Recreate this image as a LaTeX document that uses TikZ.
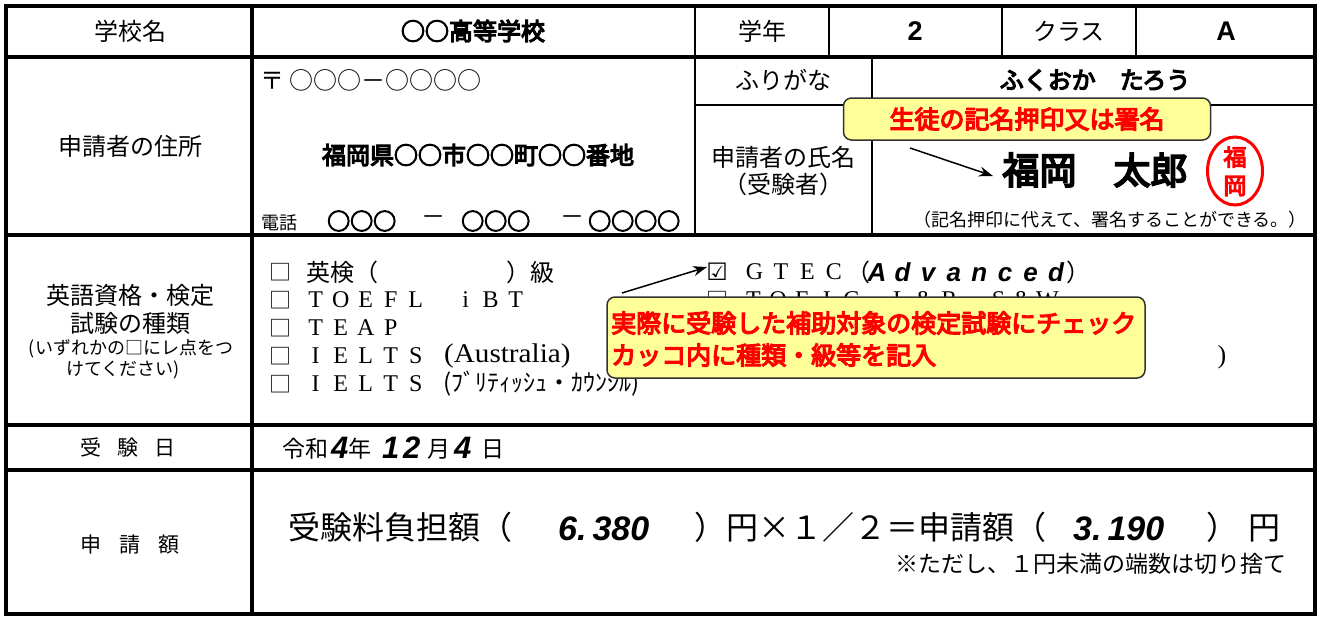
\documentclass[tikz,border=0pt]{standalone}
\usepackage{fontspec}
\setmainfont{Liberation Serif}
\newfontfamily\jp[AutoFakeBold=2]{Noto Sans CJK JP}
\newfontfamily\jph[AutoFakeBold=5, BoldFeatures={FakeBold=4}]{Noto Sans CJK JP}
\newfontfamily\dv{DejaVu Sans}
\newfontfamily\ls{Liberation Sans}
\usetikzlibrary{arrows.meta,shapes.geometric}
\definecolor{cyel}{HTML}{FFFF99}
\definecolor{cred}{HTML}{FF0000}
\newcommand\fs[1]{\fontsize{#1}{#1}\selectfont}
\makeatletter
\def\fw@loop#1{\ifx#1\relax\else\makebox[\fw@w]{#1}\expandafter\fw@loop\fi}
\newcommand\fw[2]{\def\fw@w{#1pt}\fw@loop#2\relax}
\makeatother
\tikzset{
  jpn/.style={font=\jp\fs{24}, inner sep=0pt},
  jpb/.style={font=\jph\bfseries\fs{24}, inner sep=0pt},
  jps/.style={font=\jp\fs{18}, inner sep=0pt},
  fwl/.style={font=\fs{24}, inner sep=0pt, anchor=west},
  boxch/.style={font=\jp\fs{22}, inner sep=0pt},
  digit/.style={font=\ls\bfseries\itshape\fs{31}, inner sep=0pt, anchor=base west},
  kanjis/.style={font=\jp\fs{23}, inner sep=0pt, anchor=base west},
  mainl/.style={font=\jp\fs{32}, inner sep=0pt, anchor=base west},
  maind/.style={font=\ls\bfseries\itshape\fs{34}, inner sep=0pt, anchor=base west},
  callout/.style={draw=black!80, fill=cyel, rounded corners=8pt, line width=1.5pt},
  redtext/.style={font=\jph\bfseries\fs{25}, text=cred, inner sep=0pt},
  arr/.style={-{Stealth[length=14pt,width=10pt]}, line width=1.5pt},
  outer/.style={line width=4.5pt},
  inner/.style={line width=3.5pt},
  mid/.style={line width=2.5pt},
  thin/.style={line width=1.3pt}
}
\begin{document}
\begin{tikzpicture}[x=1pt,y=-1pt]
\useasboundingbox (0,0) rectangle (1319,618);
% table lines
\draw[inner] (252,6) -- (252,614);
\draw[inner] (6,57) -- (1315,57);
\draw[inner] (6,235) -- (1315,235);
\draw[inner] (6,425) -- (1315,425);
\draw[inner] (6,470) -- (1315,470);
\draw[mid] (695,6) -- (695,235);
\draw[mid] (829,6) -- (829,57);
\draw[mid] (1002,6) -- (1002,57);
\draw[mid] (1136,6) -- (1136,57);
\draw[mid] (872,57) -- (872,235);
\draw[thin] (695,105) -- (1315,105);
\draw[outer] (6,6) rectangle (1315,614);
% row 1
\node[jpn] (schoolL) at (130,31) {学校名};
\node[jpb] (school) at (473,31) {○○高等学校};
\node[jpn] (gradeL) at (762,31) {学年};
\node[font=\ls\bfseries\fs{27}, inner sep=0pt] (grade) at (915,31) {2};
\node[jpn] (classL) at (1069,31) {クラス};
\node[font=\ls\bfseries\fs{27}, inner sep=0pt] (cls) at (1226,31) {A};
% row 2
\node[jpn, anchor=west] (zip) at (260,80) {〒\hspace{5pt}○○○－○○○○};
\node[jpn] (addrL) at (130,146) {申請者の住所};
\node[jpb] (addr) at (478,155) {福岡県○○市○○町○○番地};
\node[jps, anchor=west] (telL) at (261,223) {電話};
\node[font=\jph\bfseries\fs{23}, inner sep=0pt, anchor=west] (tel1) at (327,221) {○○○};
\node[jpn] (dash1) at (433,221) {－};
\node[font=\jph\bfseries\fs{23}, inner sep=0pt, anchor=west] (tel2) at (461,221) {○○○};
\node[jpn] (dash2) at (572,221) {－};
\node[font=\jph\bfseries\fs{23}, inner sep=0pt, anchor=west] (tel3) at (588,221) {○○○○};
\node[jpn] (furiL) at (783,80) {ふりがな};
\node[jpb] (furi) at (1095,80) {ふくおか　たろう};
\node[jpn] (nameL1) at (783,157) {申請者の氏名};
\node[jpn] (nameL2) at (783,184) {（受験者）};
\node[font=\jph\bfseries\fs{37}, inner sep=0pt] (name) at (1095,170) {福岡　太郎};
\node[ellipse, draw=cred, line width=3pt, minimum width=55pt, minimum height=68pt, inner sep=0pt] (stamp) at (1235,171) {};
\node[font=\jph\bfseries\fs{23}, text=cred, inner sep=0pt] (stamp1) at (1235,157) {福};
\node[font=\jph\bfseries\fs{23}, text=cred, inner sep=0pt] (stamp2) at (1235,186) {岡};
\node[jps] (signnote) at (1110,220) {（記名押印に代えて、署名することができる。）};
% row 3
\node[jpn] (engL1) at (130,295) {英語資格・検定};
\node[jpn] (engL2) at (130,323) {試験の種類};
\node[jps] (engL3) at (131,349) {(いずれかの□にレ点をつ};
\node[jps] (engL4) at (123,370) {けてください)};
\node[boxch] (cb1) at (280,272) {□};
\node[jpn, anchor=west] (eiken) at (306,272) {英検（};
\node[jpn, anchor=west] (eiken2) at (506,272) {）級};
\node[boxch] (cb2) at (280,300) {□};
\node[fwl] (toefl) at (303,300) {\fw{25}{TOEFL}\makebox[25pt]{}\fw{25}{iBT}};
\node[boxch] (cb3) at (280,328) {□};
\node[fwl] (teap) at (303,328) {\fw{25}{TEAP}};
\node[boxch] (cb4) at (280,356) {□};
\node[fwl] (ielts1) at (303,356) {\fw{25}{IELTS}};
\node[font=\fs{27}, inner sep=0pt, anchor=west] (aus) at (444,356) {\scalebox{1.08}[1]{(Australia)}};
\node[boxch] (cb5) at (280,384) {□};
\node[fwl] (ielts2) at (303,384) {\fw{25}{IELTS}};
\node[jpn, anchor=west] (brit) at (443,384) {(ﾌﾞﾘﾃｨｯｼｭ・ｶｳﾝｼﾙ)};
\node[font=\dv\fs{24}, inner sep=0pt] (cbg) at (717,272) {☑};
\node[fwl] (gtec) at (741,272) {\fw{26.5}{GTEC}};
\node[jpn, anchor=west] (glp) at (846,272) {（};
\node[font=\ls\bfseries\itshape\fs{26}, inner sep=0pt, anchor=west] (adv) at (864,272) {\fw{25.6}{Advanced}};
\node[jpn, anchor=west] (grp) at (1066,272) {）};
\node[boxch] (cbt) at (717,300) {□};
\node[fwl] (toeic) at (741,300) {\fw{24.5}{TOEIC}\makebox[24.5pt]{}\fw{24.5}{L\&R}\makebox[24.5pt]{}\fw{24.5}{S\&W}};
\node[font=\fs{26}, inner sep=0pt] (rpar) at (1222,357) {)};
% callouts
\node[callout, minimum width=367pt, minimum height=42pt] (c1) at (1027,119) {};
\node[redtext] (c1t) at (c1) {生徒の記名押印又は署名};
\coordinate (a1s) at (910,148);
\coordinate (a1e) at (993,176);
\draw[arr] (a1s) -- (a1e);
\node[callout, minimum width=538pt, minimum height=81pt] (c2) at (876,337.5) {};
\node[redtext, anchor=west] (c2t1) at (611,323) {実際に受験した補助対象の検定試験にチェック};
\node[redtext, anchor=west] (c2t2) at (611,355) {カッコ内に種類・級等を記入};
\coordinate (a2s) at (622,293);
\coordinate (a2e) at (707,267);
\draw[arr] (a2s) -- (a2e);
% row 4
\node[font=\jp\fs{21}, inner sep=0pt] (dateL) at (128,447) {受\hspace{16pt}験\hspace{16pt}日};
\node[kanjis] (d1) at (282,457) {令和};
\node[digit] (d2) at (331,458) {4};
\node[kanjis] (d3) at (348,457) {年};
\node[digit] (d4) at (380,458) {\fw{21}{12}};
\node[kanjis] (d5) at (427,457) {月};
\node[digit] (d6) at (454,458) {4};
\node[kanjis] (d7) at (481,457) {日};
% row 5
\node[font=\jp\fs{21}, inner sep=0pt] (amtL) at (130,545) {申\hspace{18pt}請\hspace{18pt}額};
\node[mainl] (m1) at (288,539) {受験料負担額（};
\node[maind] (m2) at (558,540) {6.\hspace{6pt}380};
\node[mainl] (m3) at (694,539) {）円×１／２＝申請額（};
\node[maind] (m4) at (1073,540) {3.\hspace{6pt}190};
\node[mainl] (m5) at (1206,539) {）};
\node[mainl] (m6) at (1248,539) {円};
\node[font=\jp\fs{23}, inner sep=0pt, anchor=base east] (roundnote) at (1287,572) {※ただし、１円未満の端数は切り捨て};
\end{tikzpicture}
\end{document}
